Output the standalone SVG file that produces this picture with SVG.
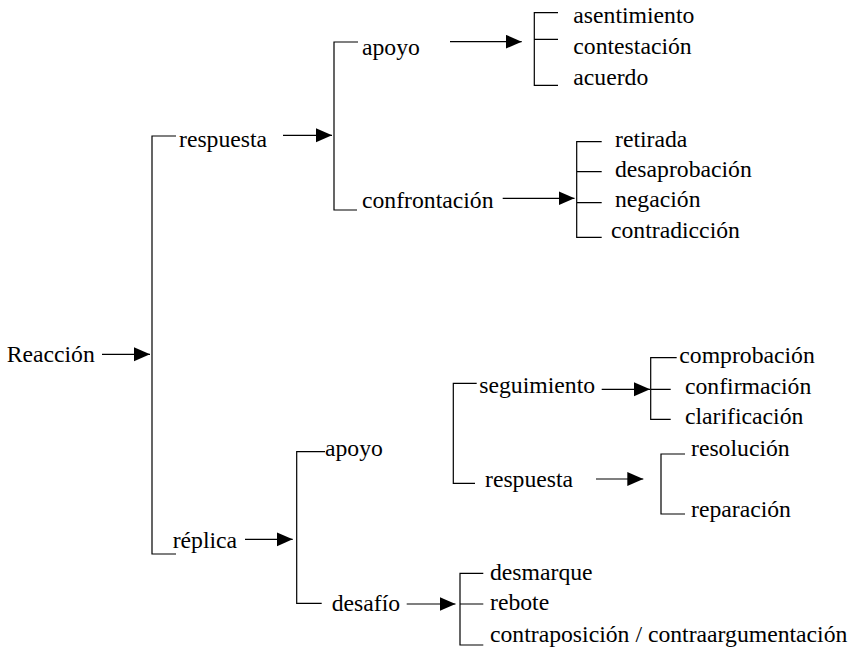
<svg xmlns="http://www.w3.org/2000/svg" width="863" height="649" viewBox="0 0 863 649">
<style>
text{font-size:23.7px;fill:#000}
.b{fill:none;stroke:#000;stroke-width:1.2}
.a{stroke:#000;stroke-width:1.2;marker-end:url(#ah)}
</style>
<defs>
<marker id="ah" markerUnits="userSpaceOnUse" markerWidth="17" markerHeight="15" refX="16" refY="7" orient="auto"><path d="M0,0 L16,7 L0,14 z" fill="#000"/></marker>
</defs>
<rect width="863" height="649" fill="#fff"/>
<g id="connectors">
<path class="b" d="M176,136 H152 V554 H176"/>
<line class="a" x1="102" y1="354.3" x2="150" y2="354.3"/>
<path class="b" d="M358,42 H334 V210 H357"/>
<line class="a" x1="283" y1="135.3" x2="332" y2="135.3"/>
<path class="b" d="M558,12.7 H534.3 V85.3 H558 M534.3,39.3 H558"/>
<line class="a" x1="450" y1="41.7" x2="521.7" y2="41.7"/>
<path class="b" d="M601.7,141.7 H576.7 V237.3 H601.7 M576.7,171.7 H601.7 M576.7,202.7 H601.7"/>
<line class="a" x1="502.7" y1="198.3" x2="574.5" y2="198.3"/>
<path class="b" d="M325,451.7 H296.7 V603.3 H321.7"/>
<line class="a" x1="245" y1="539.3" x2="292.7" y2="539.3"/>
<path class="b" d="M476.7,383.3 H453.3 V483.3 H475"/>
<path class="b" d="M483.3,573.3 H460 V645 H483.3 M460,604 H483.3"/>
<line class="a" x1="406.7" y1="604" x2="455.5" y2="604"/>
<path class="b" d="M676.7,357.7 H650.7 V419.3 H670.7 M650.7,389.3 H670.7"/>
<line class="a" x1="601.7" y1="389.3" x2="650" y2="389.3"/>
<path class="b" d="M685,454 H661 V514 H685"/>
<line class="a" x1="596" y1="479" x2="643.3" y2="479"/>
</g>
<g font-family="'Liberation Serif', 'Times New Roman', Times, 'DejaVu Serif', serif">
<g id="n-reaccion"><text x="6.7" y="362.3">Reacción</text></g>
<g id="n-respuesta1"><text x="179" y="147">respuesta</text></g>
<g id="n-replica"><text x="172.7" y="548.3">réplica</text></g>
<g id="n-apoyo1"><text x="362" y="55">apoyo</text></g>
<g id="n-confrontacion"><text x="362" y="208">confrontación</text></g>
<g id="n-asentimiento"><text x="573.3" y="22.7">asentimiento</text></g>
<g id="n-contestacion"><text x="573.3" y="54">contestación</text></g>
<g id="n-acuerdo"><text x="573.3" y="85">acuerdo</text></g>
<g id="n-retirada"><text x="615" y="146.7">retirada</text></g>
<g id="n-desaprobacion"><text x="615" y="176.7">desaprobación</text></g>
<g id="n-negacion"><text x="615" y="207.3">negación</text></g>
<g id="n-contradiccion"><text x="611" y="238.3">contradicción</text></g>
<g id="n-apoyo2"><text x="325" y="456">apoyo</text></g>
<g id="n-desafio"><text x="331.7" y="610.7">desafío</text></g>
<g id="n-seguimiento"><text x="479.3" y="393.3">seguimiento</text></g>
<g id="n-respuesta2"><text x="485" y="486.7">respuesta</text></g>
<g id="n-comprobacion"><text x="679.3" y="363.3">comprobación</text></g>
<g id="n-confirmacion"><text x="685" y="394">confirmación</text></g>
<g id="n-clarificacion"><text x="685" y="424.3">clarificación</text></g>
<g id="n-resolucion"><text x="691" y="456">resolución</text></g>
<g id="n-reparacion"><text x="691" y="517.3">reparación</text></g>
<g id="n-desmarque"><text x="490" y="580">desmarque</text></g>
<g id="n-rebote"><text x="490" y="610">rebote</text></g>
<g id="n-contraposicion"><text x="490" y="641.7">contraposición / contraargumentación</text></g>
</g>
</svg>
